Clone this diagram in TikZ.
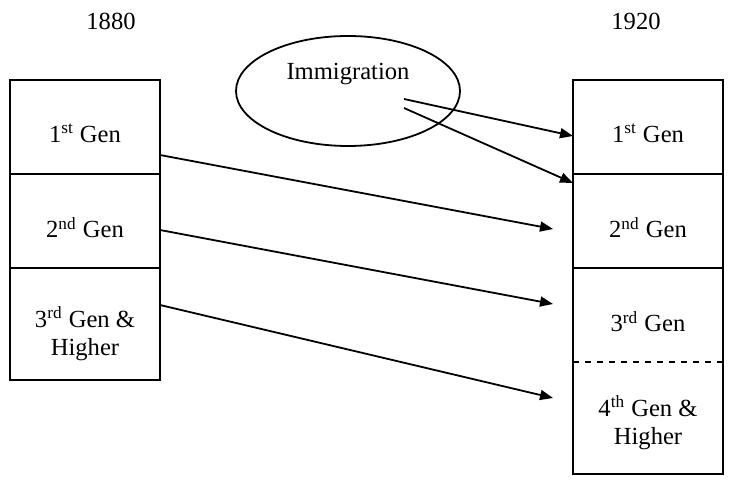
\documentclass[tikz,border=0pt]{standalone}
\usepackage{fontspec}
\setmainfont{Liberation Serif}
\usetikzlibrary{positioning,shapes.geometric,arrows.meta}

\begin{document}
\begin{tikzpicture}[x=1pt,y=1pt,line width=0.9pt,>={Triangle[length=6.5pt,width=5pt]},
        cell/.style={rectangle,draw,minimum width=75pt,minimum height=47pt,inner sep=0pt,outer sep=0pt},
        tallcell/.style={cell,minimum height=56pt},
        gen/.style={align=center,font=\fontsize{12.3}{14}\selectfont,inner sep=0pt}]
\useasboundingbox (0,0) rectangle (366,-243);
	\node[gen] (y1880) at (55.5,-10.75) {1880};
 \node[gen] (y1920) at (318,-10.75) {1920};

% 1880 column
\node[cell] (l1) at (42.5,-63.5) {};
\node[cell,below=0pt of l1] (l2) {};
\node[tallcell,below=0pt of l2] (l3) {};
\node[gen,yshift=-3.25pt] (tl1) at (l1) {1\textsuperscript{st} Gen};
\node[gen,yshift=-3.25pt] (tl2) at (l2) {2\textsuperscript{nd} Gen};
\node[gen,yshift=-5pt] (tl3) at (l3) {3\textsuperscript{rd} Gen \&\\Higher};

% 1920 column
\node[cell] (r1) at (324,-63.5) {};
\node[cell,below=0pt of r1] (r2) {};
\node[cell,draw=none,below=0pt of r2] (r3) {};
\node[tallcell,draw=none,below=0pt of r3] (r4) {};
\draw (r3.north west) -- (r4.south west) -- (r4.south east) -- (r3.north east);
\draw[dashed,line width=0.7pt] (r4.north west) -- (r4.north east);
\node[gen,yshift=-3.25pt] (tr1) at (r1) {1\textsuperscript{st} Gen};
\node[gen,yshift=-3.25pt] (tr2) at (r2) {2\textsuperscript{nd} Gen};
\node[gen,yshift=-3.25pt] (tr3) at (r3) {3\textsuperscript{rd} Gen};
\node[gen,yshift=-2.5pt] (tr4) at (r4) {4\textsuperscript{th} Gen \&\\Higher};

\node[ellipse,draw,minimum width=112pt,minimum height=55pt,inner sep=0pt] (imm) at (174,-45.5) {};
\node[gen] (timm) at (174,-37) {Immigration};

\draw[->] ([shift={(28pt,-4pt)}]imm.center) -- ([yshift=-4.5pt]r1.west);
\draw[->] ([shift={(28pt,-8.5pt)}]imm.center) -- ([yshift=-4.5pt]r2.north west);
\draw[->] ([yshift=-14pt]l1.east) -- ([shift={(-10pt,-4pt)}]r2.west);
\draw[->] ([yshift=-4.5pt]l2.east) -- ([shift={(-10pt,5.5pt)}]r3.west);
\draw[->] ([yshift=9.5pt]l3.east) -- ([shift={(-10pt,10pt)}]r4.west);

\end{tikzpicture}
\end{document}
